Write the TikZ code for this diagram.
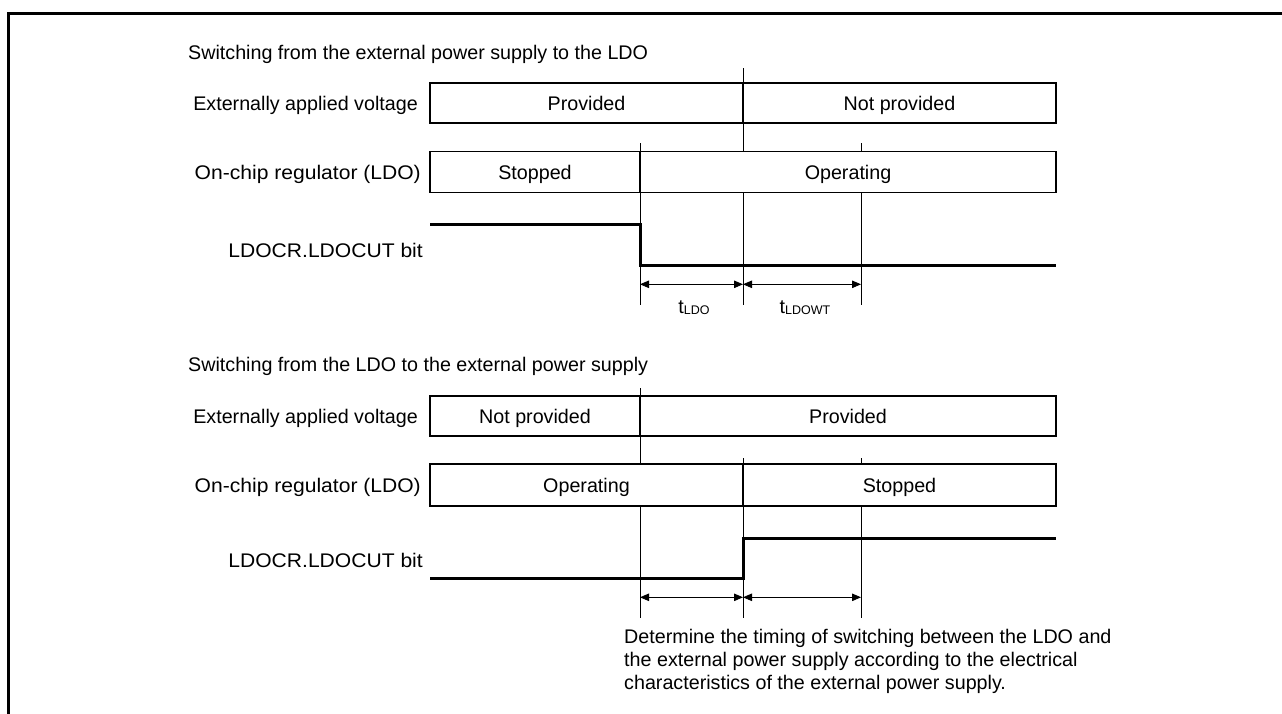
\documentclass[tikz,border=0pt]{standalone}
\usepackage{fontspec}
\setmainfont{Liberation Sans}
\usetikzlibrary{arrows.meta}
\newcommand\mysub[1]{\raisebox{-1pt}{\fontsize{12.5}{14}\selectfont #1}}
\newcommand\mywide[1]{\scalebox{1.07}[1]{#1}}
\begin{document}
\begin{tikzpicture}[x=1pt,y=-1pt,
  every node/.style={font=\fontsize{19.7}{22.5}\selectfont, inner sep=0pt},
  seg/.style={draw, line width=1.4pt, fill=white, text height=14pt, text depth=0pt, align=center},
  guide/.style={line width=0.9pt},
  sig/.style={line width=3pt, line join=miter},
  dim/.style={line width=0.9pt, {Triangle[length=9pt,width=7.5pt]}-{Triangle[length=9pt,width=7.5pt]}},
  lab/.style={anchor=base east},
  txt/.style={anchor=base west},
]
\useasboundingbox (0,0) rectangle (1282,713);
\draw[line width=3pt, line join=miter] (1290,13.5) -- (8.5,13.5) -- (8.5,720);

% ---------- top section ----------
\node[txt] (t1) at (188,59) {Switching from the external power supply to the LDO};
\node[lab] (l1a) at (418,110) {Externally applied voltage};
\node[lab] (l1b) at (421,179) {\mywide{On-chip regulator (LDO)}};
\node[lab] (l1c) at (423,257) {\mywide{LDOCR.LDOCUT bit}};

\coordinate (ga1) at (743,68);  \coordinate (ga2) at (743,305);
\coordinate (gb1) at (640,143); \coordinate (gb2) at (640,305);
\coordinate (gc1) at (861,143); \coordinate (gc2) at (861,305);
\draw[guide] (ga1) -- (ga2);
\draw[guide] (gb1) -- (gb2);
\draw[guide] (gc1) -- (gc2);

\node[seg, minimum width=313pt, minimum height=40pt] (a1) at (586.5,103) {Provided};
\node[seg, minimum width=313pt, minimum height=40pt] (a2) at (899.5,103) {Not provided};
\node[seg, minimum width=210pt, minimum height=41pt] (b1) at (535,172) {Stopped};
\node[seg, minimum width=416pt, minimum height=41pt] (b2) at (848,172) {Operating};

\coordinate (s1) at (430,224.3); \coordinate (s2) at (640,224.3);
\coordinate (s3) at (640,265.3); \coordinate (s4) at (1056,265.3);
\draw[sig] (s1) -- (s2) -- (s3) -- (s4);

\coordinate (da1) at (640,284.3); \coordinate (da2) at (743,284.3); \coordinate (da3) at (861,284.3);
\draw[dim] (da1) -- (da2);
\draw[dim] (da2) -- (da3);
\node[anchor=base] (tldo) at (694,313) {t\mysub{LDO}};
\node[anchor=base] (tldowt) at (805,313) {t\mysub{LDOWT}};

% ---------- bottom section ----------
\node[txt] (t2) at (188,371) {Switching from the LDO to the external power supply};
\node[lab] (l2a) at (418,423) {Externally applied voltage};
\node[lab] (l2b) at (421,492) {\mywide{On-chip regulator (LDO)}};
\node[lab] (l2c) at (423,567) {\mywide{LDOCR.LDOCUT bit}};

\coordinate (gd1) at (640,388); \coordinate (gd2) at (640,618);
\coordinate (ge1) at (743,458); \coordinate (ge2) at (743,618);
\coordinate (gf1) at (861,458); \coordinate (gf2) at (861,618);
\draw[guide] (gd1) -- (gd2);
\draw[guide] (ge1) -- (ge2);
\draw[guide] (gf1) -- (gf2);

\node[seg, minimum width=210pt, minimum height=40pt] (c1) at (535,416) {Not provided};
\node[seg, minimum width=416pt, minimum height=40pt] (c2) at (848,416) {Provided};
\node[seg, minimum width=313pt, minimum height=42pt] (e1) at (586.5,485) {Operating};
\node[seg, minimum width=313pt, minimum height=42pt] (e2) at (899.5,485) {Stopped};

\coordinate (u1) at (430,578.3); \coordinate (u2) at (743,578.3);
\coordinate (u3) at (743,538.3); \coordinate (u4) at (1056,538.3);
\draw[sig] (u1) -- (u2) -- (u3) -- (u4);

\coordinate (db1) at (640,597.3); \coordinate (db2) at (743,597.3); \coordinate (db3) at (861,597.3);
\draw[dim] (db1) -- (db2);
\draw[dim] (db2) -- (db3);

\node[txt] (n1) at (624,643) {Determine the timing of switching between the LDO and};
\node[txt] (n2) at (624,666) {the external power supply according to the electrical};
\node[txt] (n3) at (624,689) {characteristics of the external power supply.};
\end{tikzpicture}
\end{document}
